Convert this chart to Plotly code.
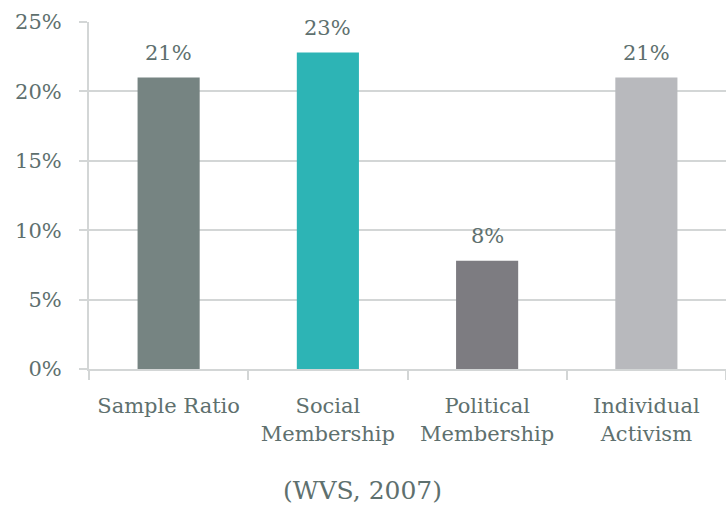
import plotly.graph_objects as go

# Share of respondents by participation type (WVS, 2007)
categories = ["Sample Ratio", "Social<br>Membership", "Political<br>Membership", "Individual<br>Activism"]
shares = [0.210, 0.228, 0.078, 0.210]
bar_colors = ["#768482", "#2db4b5", "#7d7c81", "#b8b9bd"]
y_ticks = [0, 0.05, 0.10, 0.15, 0.20, 0.25]

text_color = "#5e706e"
grid_color = "#d3d6d6"
font_family = "DejaVu Serif"

fig = go.Figure(
    go.Bar(
        x=categories,
        y=shares,
        marker=dict(color=bar_colors, line=dict(width=0)),
        width=0.39,
        cliponaxis=False,
        hoverinfo="skip",
    )
)

# value labels above each bar
for cat, val in zip(categories, shares):
    fig.add_annotation(
        x=cat, y=val, text=f"{val:.0%}", showarrow=False,
        yanchor="bottom", yshift=11,
        font=dict(family=font_family, size=21, color=text_color),
    )

fig.add_annotation(
    x=0.43, y=-0.349, xref="paper", yref="paper",
    text="(WVS, 2007)", showarrow=False, yanchor="middle",
    font=dict(family=font_family, size=25, color=text_color),
)

fig.update_layout(
    width=726, height=507,
    margin=dict(l=89, r=0, t=22, b=138),
    plot_bgcolor="white", paper_bgcolor="white",
    showlegend=False,
    font=dict(family=font_family, size=21, color=text_color),
    bargap=0.61,
)
fig.update_xaxes(
    showgrid=False,
    showline=True, linecolor=grid_color, linewidth=2,
    ticks="outside", tickson="boundaries", ticklen=9, tickwidth=2, tickcolor=grid_color,
    ticklabelstandoff=17,
    tickfont=dict(family=font_family, size=21, color=text_color),
)
fig.update_yaxes(
    range=[0, 0.25], tickvals=y_ticks, tickformat=".0%",
    showgrid=True, gridcolor=grid_color, gridwidth=2,
    showline=True, linecolor=grid_color, linewidth=2,
    ticks="outside", ticklen=8, tickwidth=2, tickcolor=grid_color,
    ticklabelstandoff=13, zeroline=False,
    tickfont=dict(family=font_family, size=21, color=text_color),
)

fig.write_html("out.html")
